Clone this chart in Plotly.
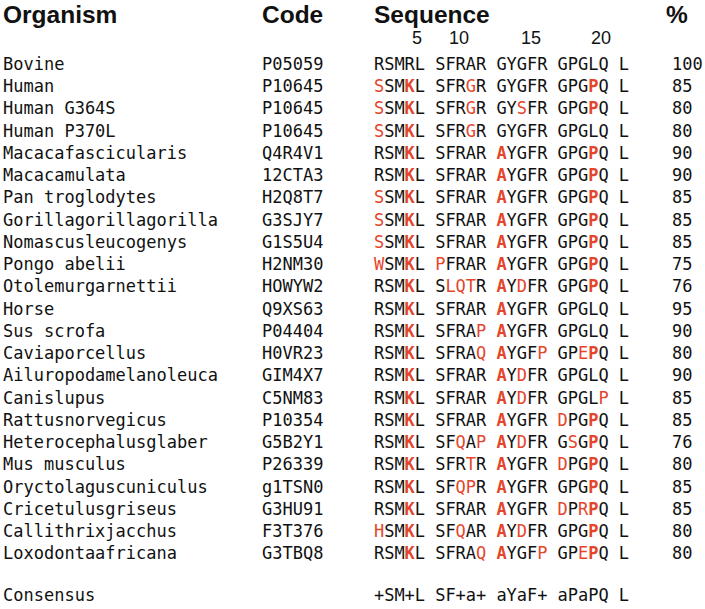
import plotly.graph_objects as go

organisms = ["Bovine", "Human", "Human G364S", "Human P370L", "Macacafascicularis",
             "Macacamulata", "Pan troglodytes", "Gorillagorillagorilla", "Nomascusleucogenys",
             "Pongo abelii", "Otolemurgarnettii", "Horse", "Sus scrofa", "Caviaporcellus",
             "Ailuropodamelanoleuca", "Canislupus", "Rattusnorvegicus", "Heterocephalusglaber",
             "Mus musculus", "Oryctolaguscuniculus", "Cricetulusgriseus", "Callithrixjacchus",
             "Loxodontaafricana"]
codes = ["P05059", "P10645", "P10645", "P10645", "Q4R4V1", "12CTA3", "H2Q8T7", "G3SJY7",
         "G1S5U4", "H2NM30", "HOWYW2", "Q9XS63", "P04404", "H0VR23", "GIM4X7", "C5NM83",
         "P10354", "G5B2Y1", "P26339", "g1TSN0", "G3HU91", "F3T376", "G3TBQ8"]
sequences = ["RSMRLSFRARGYGFRGPGLQL", "SSMKLSFRGRGYGFRGPGPQL", "SSMKLSFRGRGYSFRGPGPQL",
             "SSMKLSFRGRGYGFRGPGLQL", "RSMKLSFRARAYGFRGPGPQL", "RSMKLSFRARAYGFRGPGPQL",
             "SSMKLSFRARAYGFRGPGPQL", "SSMKLSFRARAYGFRGPGPQL", "SSMKLSFRARAYGFRGPGPQL",
             "WSMKLPFRARAYGFRGPGPQL", "RSMKLSLQTRAYDFRGPGPQL", "RSMKLSFRARAYGFRGPGLQL",
             "RSMKLSFRAPAYGFRGPGLQL", "RSMKLSFRAQAYGFPGPEPQL", "RSMKLSFRARAYDFRGPGLQL",
             "RSMKLSFRARAYDFRGPGLPL", "RSMKLSFRARAYGFRDPGPQL", "RSMKLSFQAPAYDFRGSGPQL",
             "RSMKLSFRTRAYGFRDPGPQL", "RSMKLSFQPRAYGFRGPGPQL", "RSMKLSFRARAYGFRDPRPQL",
             "HSMKLSFQARAYDFRGPGPQL", "RSMKLSFRAQAYGFPGPEPQL"]
percents = [100, 85, 80, 80, 90, 90, 85, 85, 85, 75, 76, 95, 90, 80, 90, 85, 85, 76, 80, 85, 85, 80, 80]
consensus = "+SM+LSF+a+aYaF+aPaPQL"
key_sites = [4, 11, 19]          # 1-based residue positions shown in bold
position_labels = ["5", "10", "15", "20"]
headers = ["Organism", "Code", "Sequence", "%"]

# ---- layout constants (pixels) ----
W, H = 705, 609
ROW0, DY = 65.5, 22.25
CONS_Y = 597
X_NAME, X_CODE, X_SEQ, X_PCT = 3, 262, 374, 672
CW = 10.2
HEADER_X = [3, 262, 374, 666]
HEADER_Y = 17
LABEL_X = [417, 459, 531, 601]
LABEL_Y = 39
RED = "#e5452b"
BLACK = "#111111"
MONO = "DejaVu Sans Mono"
SANS = "Liberation Sans, Arial"

ref = sequences[0]
row_y = [ROW0 + i * DY for i in range(len(organisms))]

def col_x(i):
    return X_SEQ + (i + i // 5) * CW + CW / 2

fig = go.Figure()

common = dict(mode="text", hoverinfo="skip", cliponaxis=False)
# headers
fig.add_trace(go.Scatter(x=HEADER_X, y=[HEADER_Y] * 4,
                         text=["<b>%s</b>" % h for h in headers], textposition="middle right",
                         textfont=dict(family=SANS, size=24.5, color=BLACK), **common))
# position labels
fig.add_trace(go.Scatter(x=LABEL_X, y=[LABEL_Y] * 4, text=position_labels,
                         textposition="middle center",
                         textfont=dict(family=SANS, size=18, color=BLACK), **common))
# names, codes, percents
fig.add_trace(go.Scatter(x=[X_NAME] * (len(organisms) + 1), y=row_y + [CONS_Y],
                         text=organisms + ["Consensus"], textposition="middle right",
                         textfont=dict(family=MONO, size=17, color=BLACK), **common))
fig.add_trace(go.Scatter(x=[X_CODE] * len(codes), y=row_y, text=codes,
                         textposition="middle right",
                         textfont=dict(family=MONO, size=17, color=BLACK), **common))
fig.add_trace(go.Scatter(x=[X_PCT] * len(percents), y=row_y,
                         text=[str(p) for p in percents], textposition="middle right",
                         textfont=dict(family=MONO, size=17, color=BLACK), **common))

# residues
xs, ys, ts, cs = [], [], [], []
for r, seq in enumerate(sequences):
    for i, aa in enumerate(seq):
        diff = aa != ref[i]
        bold = diff and (i + 1) in key_sites
        xs.append(col_x(i))
        ys.append(row_y[r])
        ts.append("<b>%s</b>" % aa if bold else aa)
        cs.append(RED if diff else BLACK)
for i, aa in enumerate(consensus):
    xs.append(col_x(i))
    ys.append(CONS_Y)
    ts.append(aa)
    cs.append(BLACK)
fig.add_trace(go.Scatter(x=xs, y=ys, text=ts, textposition="middle center",
                         textfont=dict(family=MONO, size=17, color=cs), **common))

fig.update_layout(width=W, height=H, margin=dict(l=0, r=0, t=0, b=0),
                  paper_bgcolor="white", plot_bgcolor="white", showlegend=False,
                  xaxis=dict(range=[0, W], visible=False, fixedrange=True),
                  yaxis=dict(range=[H, 0], visible=False, fixedrange=True))
fig.write_html("out.html", config={"displayModeBar": False},
               post_script="document.body.style.margin='0';")
